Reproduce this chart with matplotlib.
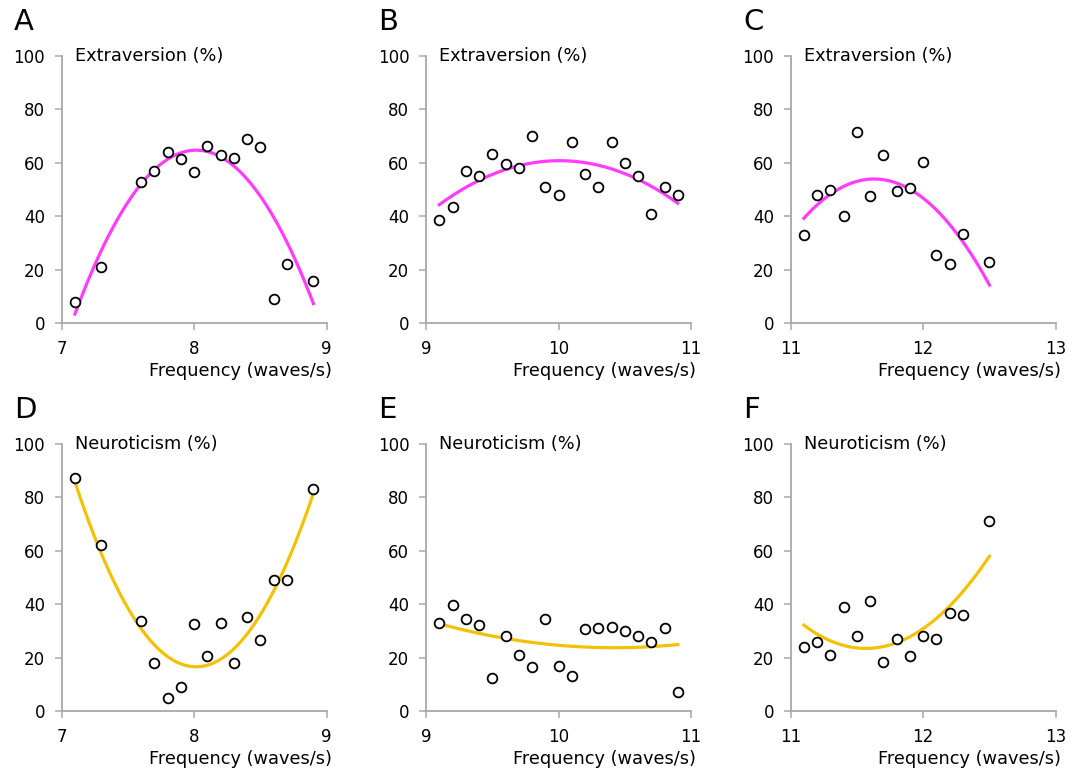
import numpy as np
import matplotlib
matplotlib.use("Agg")
import matplotlib.pyplot as plt

plt.rcParams['font.family'] = ['DejaVu Sans']

# panel A / D share x, B / E, C / F
freq_a = [7.1, 7.3, 7.6, 7.7, 7.8, 7.9, 8.0, 8.1, 8.2, 8.3, 8.4, 8.5, 8.6, 8.7, 8.9]
extra_a = [8, 21, 53, 57, 64, 61.5, 56.5, 66.5, 63, 62, 69, 66, 9, 22, 16]
neuro_d = [87, 62, 33.5, 18, 5, 9, 32.5, 20.5, 33, 18, 35, 26.5, 49, 49, 83]

freq_b = [9.1, 9.2, 9.3, 9.4, 9.5, 9.6, 9.7, 9.8, 9.9, 10.0,
          10.1, 10.2, 10.3, 10.4, 10.5, 10.6, 10.7, 10.8, 10.9]
extra_b = [38.5, 43.5, 57, 55, 63.5, 59.5, 58, 70, 51, 48,
           68, 56, 51, 68, 60, 55, 41, 51, 48]
neuro_e = [33, 39.5, 34.5, 32, 12.5, 28, 21, 16.5, 34.5, 17,
           13, 30.5, 31, 31.5, 30, 28, 26, 31, 7]

freq_c = [11.1, 11.2, 11.3, 11.4, 11.5, 11.6, 11.7, 11.8, 11.9, 12.0, 12.1, 12.2, 12.3, 12.5]
extra_c = [33, 48, 50, 40, 71.5, 47.5, 63, 49.5, 50.5, 60.5, 25.5, 22, 33.5, 23]
neuro_f = [24, 26, 21, 39, 28, 41, 18.5, 27, 20.5, 28, 27, 36.5, 36, 71]

xlims = [(7, 9), (9, 11), (11, 13)]
letters = ["A", "B", "C", "D", "E", "F"]
titles = ["Extraversion (%)"] * 3 + ["Neuroticism (%)"] * 3
pink = "#ff3cff"
gold = "#f2c200"

panels = [
    (freq_a, extra_a, pink), (freq_b, extra_b, pink), (freq_c, extra_c, pink),
    (freq_a, neuro_d, gold), (freq_b, neuro_e, gold), (freq_c, neuro_f, gold),
]

W, H = 1084, 769
fig = plt.figure(figsize=(W / 100, H / 100), dpi=100)

lefts = [61.7, 426, 790.7]
bottoms = [323.3, 711]
aw, ah = 265, 267.3

for i, (x, y, col) in enumerate(panels):
    r, c = divmod(i, 3)
    ax = fig.add_axes([lefts[c] / W, 1 - bottoms[r] / H, aw / W, ah / H])
    x = np.array(x)
    y = np.array(y)
    # quadratic trend line, like the spreadsheet did
    p = np.polyfit(x, y, 2)
    xs = np.linspace(x.min(), x.max(), 200)
    ax.plot(xs, np.polyval(p, xs), color=col, lw=2.3, zorder=2)
    ax.plot(x, y, "o", ms=7, mfc="white", mec="black", mew=1.3, zorder=3,
            clip_on=False)
    ax.set_xlim(*xlims[c])
    ax.set_ylim(0, 100)
    ax.set_xticks(np.arange(xlims[c][0], xlims[c][1] + 1))
    ax.set_yticks(np.arange(0, 101, 20))
    for s in ["top", "right"]:
        ax.spines[s].set_visible(False)
    for s in ["left", "bottom"]:
        ax.spines[s].set_color("#a8a8a8")
        ax.spines[s].set_linewidth(1.3)
    ax.tick_params(colors="#a8a8a8", labelcolor="black", labelsize=12,
                   length=5, width=1.1, direction="out")
    ax.tick_params(axis="x", pad=7)
    ax.tick_params(axis="y", pad=7)
    ax.set_xlabel("Frequency (waves/s)", fontsize=12.8, ha="right", x=1.02,
                  labelpad=3)
    ax.text(0.05, 1.0, titles[i], transform=ax.transAxes, fontsize=12.8,
            va="center", ha="left")
    ax.text(-0.18, 1.127, letters[i], transform=ax.transAxes, fontsize=21,
            va="center", ha="left")

fig.savefig("out.png", dpi=100)
